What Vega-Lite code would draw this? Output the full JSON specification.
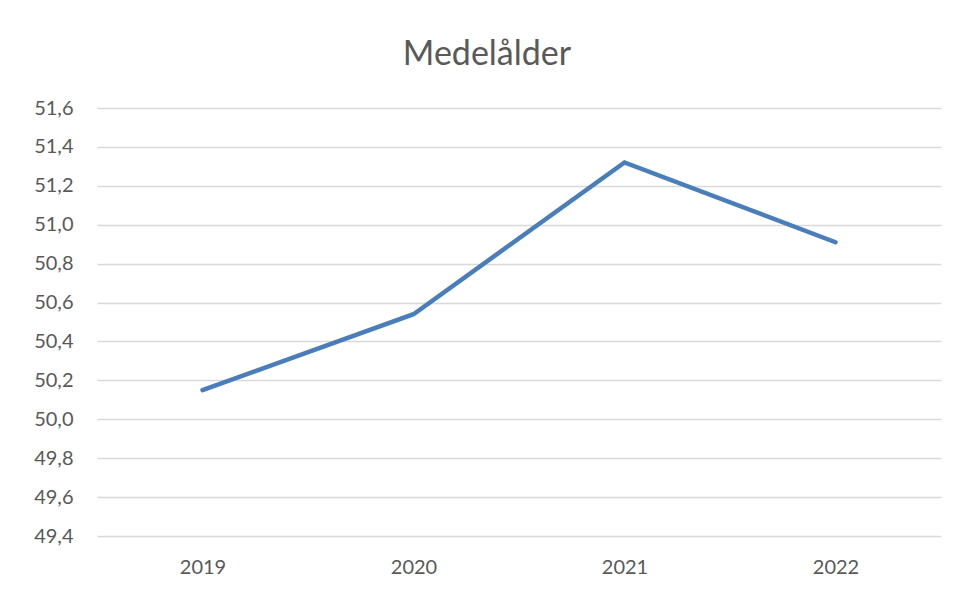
{
  "$schema": "https://vega.github.io/schema/vega-lite/v6.json",
  "autosize": {"type": "none"},
  "width": 844,
  "height": 428,
  "padding": {"left": 97, "top": 108, "right": 17, "bottom": 56},
  "background": "white",
  "title": {
    "text": "Medelålder",
    "font": "Lato",
    "fontSize": 34,
    "fontWeight": "normal",
    "color": "#595959",
    "anchor": "middle",
    "dx": -32,
    "offset": 26
  },
  "data": {
    "values": [
      {"year": "2019", "value": 50.15},
      {"year": "2020", "value": 50.54},
      {"year": "2021", "value": 51.32},
      {"year": "2022", "value": 50.91}
    ]
  },
  "mark": {"type": "line", "color": "#4a7ebb", "strokeWidth": 4.5, "strokeCap": "round", "strokeJoin": "miter"},
  "encoding": {
    "x": {
      "field": "year",
      "type": "ordinal",
      "scale": {"type": "point", "padding": 0.5},
      "axis": {
        "title": null,
        "labelAngle": 0,
        "ticks": false,
        "domain": false,
        "labelFont": "Lato",
        "labelFontSize": 20,
        "labelColor": "#595959",
        "labelPadding": 21,
        "grid": false
      }
    },
    "y": {
      "field": "value",
      "type": "quantitative",
      "scale": {"domain": [49.4, 51.6], "nice": false, "zero": false},
      "axis": {
        "title": null,
        "values": [49.4, 49.6, 49.8, 50.0, 50.2, 50.4, 50.6, 50.8, 51.0, 51.2, 51.4, 51.6],
        "labelExpr": "replace(format(datum.value, '.1f'), '.', ',')",
        "ticks": false,
        "domain": false,
        "grid": true,
        "gridColor": "#d9d9d9",
        "gridWidth": 1.3,
        "labelFont": "Lato",
        "labelFontSize": 20,
        "labelColor": "#595959",
        "labelPadding": 24
      }
    }
  },
  "config": {"view": {"stroke": null}}
}
